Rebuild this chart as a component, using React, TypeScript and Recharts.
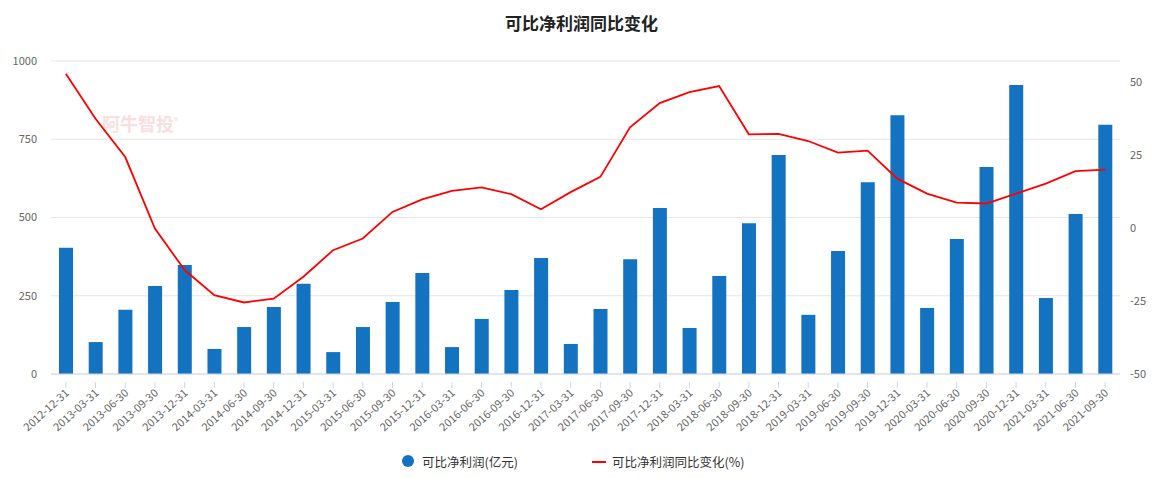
import React from "react";
import {
  ComposedChart,
  Bar,
  Line,
  XAxis,
  YAxis,
  CartesianGrid,
} from "recharts";

const periods = [
  "2012-12-31", "2013-03-31", "2013-06-30", "2013-09-30", "2013-12-31",
  "2014-03-31", "2014-06-30", "2014-09-30", "2014-12-31", "2015-03-31",
  "2015-06-30", "2015-09-30", "2015-12-31", "2016-03-31", "2016-06-30",
  "2016-09-30", "2016-12-31", "2017-03-31", "2017-06-30", "2017-09-30",
  "2017-12-31", "2018-03-31", "2018-06-30", "2018-09-30", "2018-12-31",
  "2019-03-31", "2019-06-30", "2019-09-30", "2019-12-31", "2020-03-31",
  "2020-06-30", "2020-09-30", "2020-12-31", "2021-03-31", "2021-06-30",
  "2021-09-30",
];

// 可比净利润(亿元)
const profit = [
  403, 102, 205, 281, 348, 80, 150, 214, 288, 70, 150, 230,
  323, 86, 176, 268, 371, 96, 208, 367, 530, 147, 313, 482,
  700, 189, 393, 613, 827, 211, 431, 661, 923, 243, 511, 796,
];

// 可比净利润同比变化(%)
const growth = [
  52.8, 37.4, 24.3, -0.2, -14.4, -23, -25.5, -24.2, -16.7, -7.6, -3.6, 5.5,
  9.8, 12.7, 13.9, 11.6, 6.4, 12.3, 17.5, 34.5, 42.8, 46.5, 48.6, 32.1,
  32.2, 29.8, 25.8, 26.5, 16.9, 11.8, 8.7, 8.4, 11.8, 15.2, 19.5, 20,
];

const leftTicks = [0, 250, 500, 750, 1000];
const rightTicks = [-50, -25, 0, 25, 50];

const data = periods.map((p, i) => ({ period: p, profit: profit[i], growth: growth[i] }));

const FONT = '"Noto Sans CJK SC", "Noto Sans", sans-serif';
const AXIS_COLOR = "#ccd6eb";

const XTick = (props: any) => {
  const { x, y, payload } = props;
  return (
    <g>
      <line x1={x} x2={x} y1={y} y2={y + 6} stroke={AXIS_COLOR} />
      <text
        x={0}
        y={0}
        transform={`translate(${x + 4},${y + 12}) rotate(-42)`}
        textAnchor="end"
        fontSize={11}
        fill="#666"
        fontFamily={FONT}
      >
        {payload.value}
      </text>
    </g>
  );
};

export default function App() {
  return (
    <div style={{ position: "relative", width: 1163, height: 478, fontFamily: FONT }}>
      <style>{`body{margin:0}`}</style>
      <div
        style={{
          position: "absolute",
          top: 10,
          left: 0,
          width: 1163,
          textAlign: "center",
          fontSize: 17,
          fontWeight: "bold",
          color: "#222",
        }}
      >
        可比净利润同比变化
      </div>
      {/* watermark */}
      <div
        style={{
          position: "absolute",
          top: 110,
          left: 102,
          fontSize: 18,
          fontWeight: "bold",
          color: "#f9e0e0",
        }}
      >
        阿牛智投<sup style={{ fontSize: 8 }}>®</sup>
      </div>
      <ComposedChart
        width={1163}
        height={478}
        data={data}
        margin={{ top: 61, right: 8, left: 8, bottom: 54 }}
      >
        <CartesianGrid vertical={false} stroke="#e6e6e6" yAxisId="left" />
        <XAxis
          dataKey="period"
          interval={0}
          tickLine={false}
          axisLine={{ stroke: AXIS_COLOR }}
          tick={<XTick />}
          height={50}
        />
        <YAxis
          yAxisId="left"
          domain={[0, 1000]}
          ticks={leftTicks}
          width={43}
          axisLine={false}
          tickLine={false}
          tickSize={0}
          tickMargin={14}
          tick={{ fontSize: 11, fill: "#666", fontFamily: FONT }}
        />
        <YAxis
          yAxisId="right"
          orientation="right"
          domain={[-50, 57.2]}
          ticks={rightTicks}
          allowDataOverflow
          width={35}
          axisLine={false}
          tickLine={false}
          tickSize={0}
          tickMargin={10}
          tick={{ fontSize: 11, fill: "#666", fontFamily: FONT }}
        />
        <Bar
          yAxisId="left"
          dataKey="profit"
          fill="#1473c0"
          barSize={14}
          isAnimationActive={false}
        />
        <Line
          yAxisId="right"
          dataKey="growth"
          type="linear"
          stroke="#ff0000"
          strokeWidth={1.8}
          dot={false}
          isAnimationActive={false}
        />
      </ComposedChart>
      {/* legend */}
      <div style={{ position: "absolute", top: 455, left: 402, width: 12, height: 12, borderRadius: 6, background: "#1473c0" }} />
      <div style={{ position: "absolute", top: 452, left: 422, fontSize: 12.5, color: "#333", whiteSpace: "nowrap" }}>
        可比净利润(亿元)
      </div>
      <div style={{ position: "absolute", top: 461, left: 592, width: 14, height: 2, background: "#ff0000" }} />
      <div style={{ position: "absolute", top: 452, left: 612, fontSize: 12.5, color: "#333", whiteSpace: "nowrap" }}>
        可比净利润同比变化(%)
      </div>
    </div>
  );
}
